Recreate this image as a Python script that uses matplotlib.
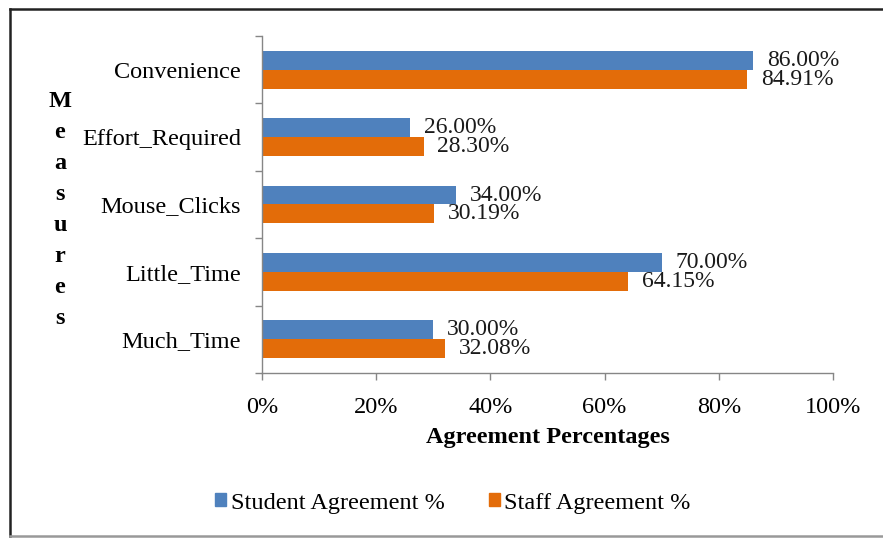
import matplotlib.pyplot as plt
import numpy as np
from matplotlib.lines import Line2D
from matplotlib.patches import Patch

# === DATI ===
categorie = ['Convenience', 'Effort_Required', 'Mouse_Clicks', 'Little_Time', 'Much_Time']
studenti = [86.00, 26.00, 34.00, 70.00, 30.00]
staff = [84.91, 28.30, 30.19, 64.15, 32.08]
etichette_x = ['0%', '20%', '40%', '60%', '80%', '100%']

col_blu = '#4F81BD'
col_arancio = '#E36C09'
col_asse = '#868686'

plt.rcParams['font.family'] = ['Liberation Serif', 'DejaVu Serif']
fs = 17.5

fig = plt.figure(figsize=(8.83, 5.38), dpi=100)
ax = fig.add_axes([262 / 883, 1 - 373 / 538, (833 - 262) / 883, (373 - 36) / 538])

y = np.arange(len(categorie))
h = 0.28
ax.barh(y - h / 2, studenti, height=h, color=col_blu, label='Student Agreement %')
ax.barh(y + h / 2, staff, height=h, color=col_arancio, label='Staff Agreement %')

for i in range(len(categorie)):
    ax.annotate(f'{studenti[i]:.2f}%', (studenti[i], y[i] - h / 2), xytext=(10, 0),
                textcoords='offset points', va='center', ha='left', fontsize=17, color='#1a1a1a')
    ax.annotate(f'{staff[i]:.2f}%', (staff[i], y[i] + h / 2), xytext=(10, 0),
                textcoords='offset points', va='center', ha='left', fontsize=17, color='#1a1a1a')

ax.set_xlim(0, 100)
ax.set_ylim(len(categorie) - 0.5, -0.5)
ax.set_xticks(np.arange(0, 101, 20))
ax.set_xticklabels(etichette_x, fontsize=fs)
ax.set_yticks(y)
ax.set_yticklabels(categorie, fontsize=fs)
ax.set_yticks(np.arange(-0.5, len(categorie)), minor=True)

ax.tick_params(axis='y', which='major', length=0, pad=15)
ax.tick_params(axis='y', which='minor', length=5, color=col_asse, width=1)
ax.tick_params(axis='x', which='major', length=5, color=col_asse, width=1, pad=12)

for s in ['top', 'right']:
    ax.spines[s].set_visible(False)
for s in ['left', 'bottom']:
    ax.spines[s].set_color(col_asse)
    ax.spines[s].set_linewidth(1)

ax.set_xlabel('Agreement Percentages', fontsize=fs, fontweight='bold', labelpad=7)

# etichetta verticale a lettere impilate
fig.text(60 / 883, 1 - 210 / 538, '\n'.join('Measures'), fontsize=fs, fontweight='bold',
         ha='center', va='center', linespacing=1.62)

maniglie = [Patch(color=col_blu, label='Student Agreement %'),
            Patch(color=col_arancio, label='Staff Agreement %')]
fig.legend(handles=maniglie, loc='center', bbox_to_anchor=(453 / 883, 1 - 503 / 538), ncol=2,
           frameon=False, fontsize=fs, handlelength=0.45, handleheight=0.45,
           handletextpad=0.2, columnspacing=1.8)

# cornice
fig.add_artist(Line2D([10 / 883, 10 / 883], [1 - 536 / 538, 1 - 9 / 538], color='#222222', lw=1.8,
                      transform=fig.transFigure))
fig.add_artist(Line2D([10 / 883, 1], [1 - 9 / 538, 1 - 9 / 538], color='#222222', lw=1.8,
                      transform=fig.transFigure))
fig.add_artist(Line2D([10 / 883, 1], [1 - 536 / 538, 1 - 536 / 538], color='#999999', lw=1.8,
                      transform=fig.transFigure))

fig.savefig('out.png', dpi=100)
